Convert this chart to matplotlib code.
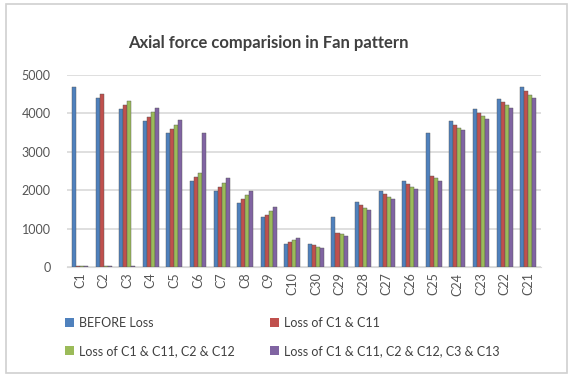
import numpy as np
import matplotlib
matplotlib.use('Agg')
import matplotlib.pyplot as plt
from matplotlib.patches import Rectangle, Patch

plt.rcParams['font.family'] = ['Lato', 'DejaVu Sans']

# ─── Data ────────────────────────────────────────────────────────────────────
members = ['C1', 'C2', 'C3', 'C4', 'C5', 'C6', 'C7', 'C8', 'C9', 'C10',
           'C30', 'C29', 'C28', 'C27', 'C26', 'C25', 'C24', 'C23', 'C22', 'C21']

before_loss = [4680, 4400, 4110, 3810, 3500, 2245, 1975, 1670, 1290, 600,
               590, 1300, 1680, 1985, 2245, 3500, 3805, 4110, 4385, 4685]
loss_c1 = [20, 4510, 4215, 3900, 3590, 2335, 2090, 1760, 1350, 655,
           560, 890, 1605, 1890, 2150, 2370, 3690, 4020, 4300, 4580]
loss_c1_c2 = [20, 20, 4320, 4030, 3690, 2440, 2195, 1865, 1455, 700,
              525, 855, 1540, 1830, 2080, 2315, 3620, 3930, 4215, 4490]
loss_c1_c2_c3 = [20, 20, 20, 4150, 3820, 3490, 2325, 1985, 1550, 755,
                 505, 795, 1490, 1770, 2020, 2245, 3560, 3850, 4145, 4410]

series = [
    ('BEFORE Loss', before_loss, '#4F81BD'),
    ('Loss of C1 & C11', loss_c1, '#C0504D'),
    ('Loss of C1 & C11, C2 & C12', loss_c1_c2, '#9BBB59'),
    ('Loss of C1 & C11, C2 & C12, C3 & C13', loss_c1_c2_c3, '#8064A2'),
]

# ─── Figure ──────────────────────────────────────────────────────────────────
fig = plt.figure(figsize=(5.69, 3.75), dpi=100)
fig.patches.append(Rectangle((0.011, 0.005), 0.985, 0.985, transform=fig.transFigure,
                             fill=False, edgecolor='#d0d0d0', linewidth=1.2))

ax = fig.add_axes([0.118, 0.288, 0.833, 0.512])
x = np.arange(len(members))
w = 0.17
for i, (label, vals, col) in enumerate(series):
    ax.bar(x + (i - 1.5) * w, vals, width=w, color=col, edgecolor='#555555',
           linewidth=0.3, label=label, zorder=3)

ax.set_xlim(-0.55, len(members) - 0.45)
ax.set_ylim(0, 5000)
ax.set_yticks(range(0, 5001, 1000))
ax.yaxis.grid(True, color='#d9d9d9', linewidth=1.2, zorder=0)
ax.set_xticks(x)
ax.set_xticklabels(members, rotation=90, fontsize=9, color='#555555')
ax.tick_params(axis='y', labelsize=9, labelcolor='#555555', length=0, pad=12)
ax.tick_params(axis='x', length=0, pad=4)
for s in ['top', 'right', 'left']:
    ax.spines[s].set_visible(False)
ax.spines['bottom'].set_color('#d9d9d9')

fig.text(0.471, 0.885, 'Axial force comparision in Fan pattern', ha='center',
         va='center', fontsize=12, fontweight='bold', color='#404040')

# legend fills column-wise: order so rows read blue/red then green/purple
order = [0, 2, 1, 3]
handles = [Patch(facecolor=series[k][2], label=series[k][0]) for k in order]
fig.legend(handles=handles, loc='lower left', bbox_to_anchor=(0.095, 0.018),
           ncol=2, frameon=False, fontsize=9, handlelength=0.7, handleheight=0.7,
           columnspacing=2.8, labelspacing=1.3, handletextpad=0.4,
           labelcolor='#404040')

plt.savefig('out.png', dpi=100)
